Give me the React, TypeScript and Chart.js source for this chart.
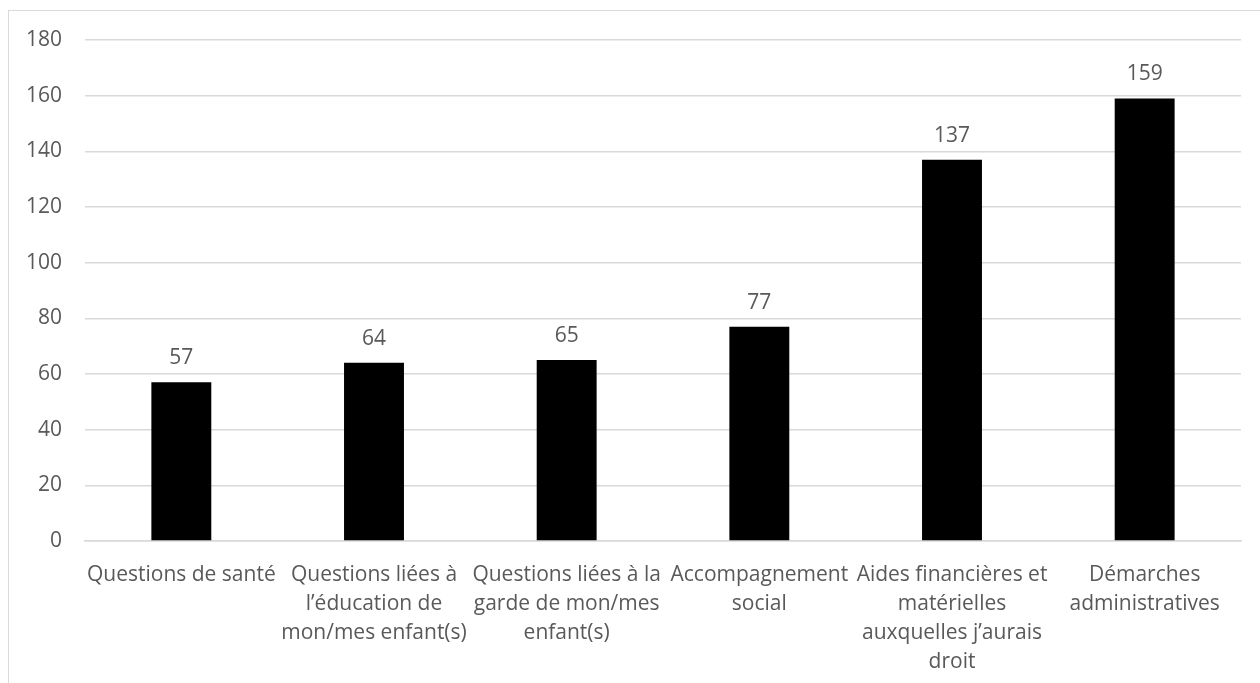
import React, { useEffect, useRef } from "react";
import { Chart, registerables } from "chart.js";

Chart.register(...registerables);

const categories: (string | string[])[] = [
  "Questions de santé",
  ["Questions liées à", "l’éducation de", "mon/mes enfant(s)"],
  ["Questions liées à la", "garde de mon/mes", "enfant(s)"],
  ["Accompagnement", "social"],
  ["Aides financières et", "matérielles", "auxquelles j’aurais", "droit"],
  ["Démarches", "administratives"],
];

const counts: number[] = [57, 64, 65, 77, 137, 159];

const yMax = 180;
const yStep = 20;

const TEXT = "#595959";
const GRID = "#d9d9d9";
const FONT = "'Open Sans', sans-serif";

// Writes each bar's value just above it
const valueLabels = {
  id: "valueLabels",
  afterDatasetsDraw(chart: any) {
    const ctx = chart.ctx;
    const meta = chart.getDatasetMeta(0);
    const values = chart.data.datasets[0].data as number[];
    ctx.save();
    ctx.fillStyle = TEXT;
    ctx.font = `21px ${FONT}`;
    ctx.textAlign = "center";
    ctx.textBaseline = "alphabetic";
    meta.data.forEach((bar: any, i: number) => {
      ctx.fillText(String(values[i]), bar.x, bar.y - 18);
    });
    ctx.restore();
  },
};

export default function App() {
  const canvasRef = useRef<HTMLCanvasElement | null>(null);

  useEffect(() => {
    const canvas = canvasRef.current;
    if (!canvas) return;
    const chart = new Chart(canvas, {
      type: "bar",
      data: {
        labels: categories,
        datasets: [
          {
            data: counts,
            backgroundColor: "#000000",
            borderWidth: 0,
            categoryPercentage: 1,
            barPercentage: 0.311,
          },
        ],
      },
      options: {
        responsive: false,
        animation: false,
        layout: { padding: { left: 0, top: 40, right: 19, bottom: 0 } },
        plugins: {
          legend: { display: false },
          tooltip: { enabled: false },
        },
        scales: {
          x: {
            grid: { display: false, drawTicks: false },
            border: { display: true, color: GRID, width: 1.5 },
            ticks: {
              color: TEXT,
              font: { family: FONT, size: 21, lineHeight: "29px" },
              padding: 20,
              maxRotation: 0,
              minRotation: 0,
              autoSkip: false,
            },
            afterFit(scale: any) {
              scale.height = 142;
            },
          },
          y: {
            min: 0,
            max: yMax,
            grid: { color: GRID, lineWidth: 1.5, drawTicks: false },
            border: { display: false },
            ticks: {
              stepSize: yStep,
              color: TEXT,
              font: { family: FONT, size: 21 },
              padding: 23,
            },
            afterFit(scale: any) {
              scale.width = 85;
            },
          },
        },
      },
      plugins: [valueLabels],
    });
    return () => chart.destroy();
  }, []);

  return (
    <div
      style={{
        position: "fixed",
        left: 0,
        top: 0,
        width: 1260,
        height: 683,
        overflow: "hidden",
        background: "#ffffff",
      }}
    >
      <div
        style={{
          position: "absolute",
          left: 8,
          top: 10,
          width: 1400,
          height: 800,
          border: `1.5px solid ${GRID}`,
          boxSizing: "border-box",
        }}
      />
      <canvas
        ref={canvasRef}
        width={1260}
        height={683}
        style={{ position: "absolute", left: 0, top: 0, width: 1260, height: 683 }}
      />
    </div>
  );
}
